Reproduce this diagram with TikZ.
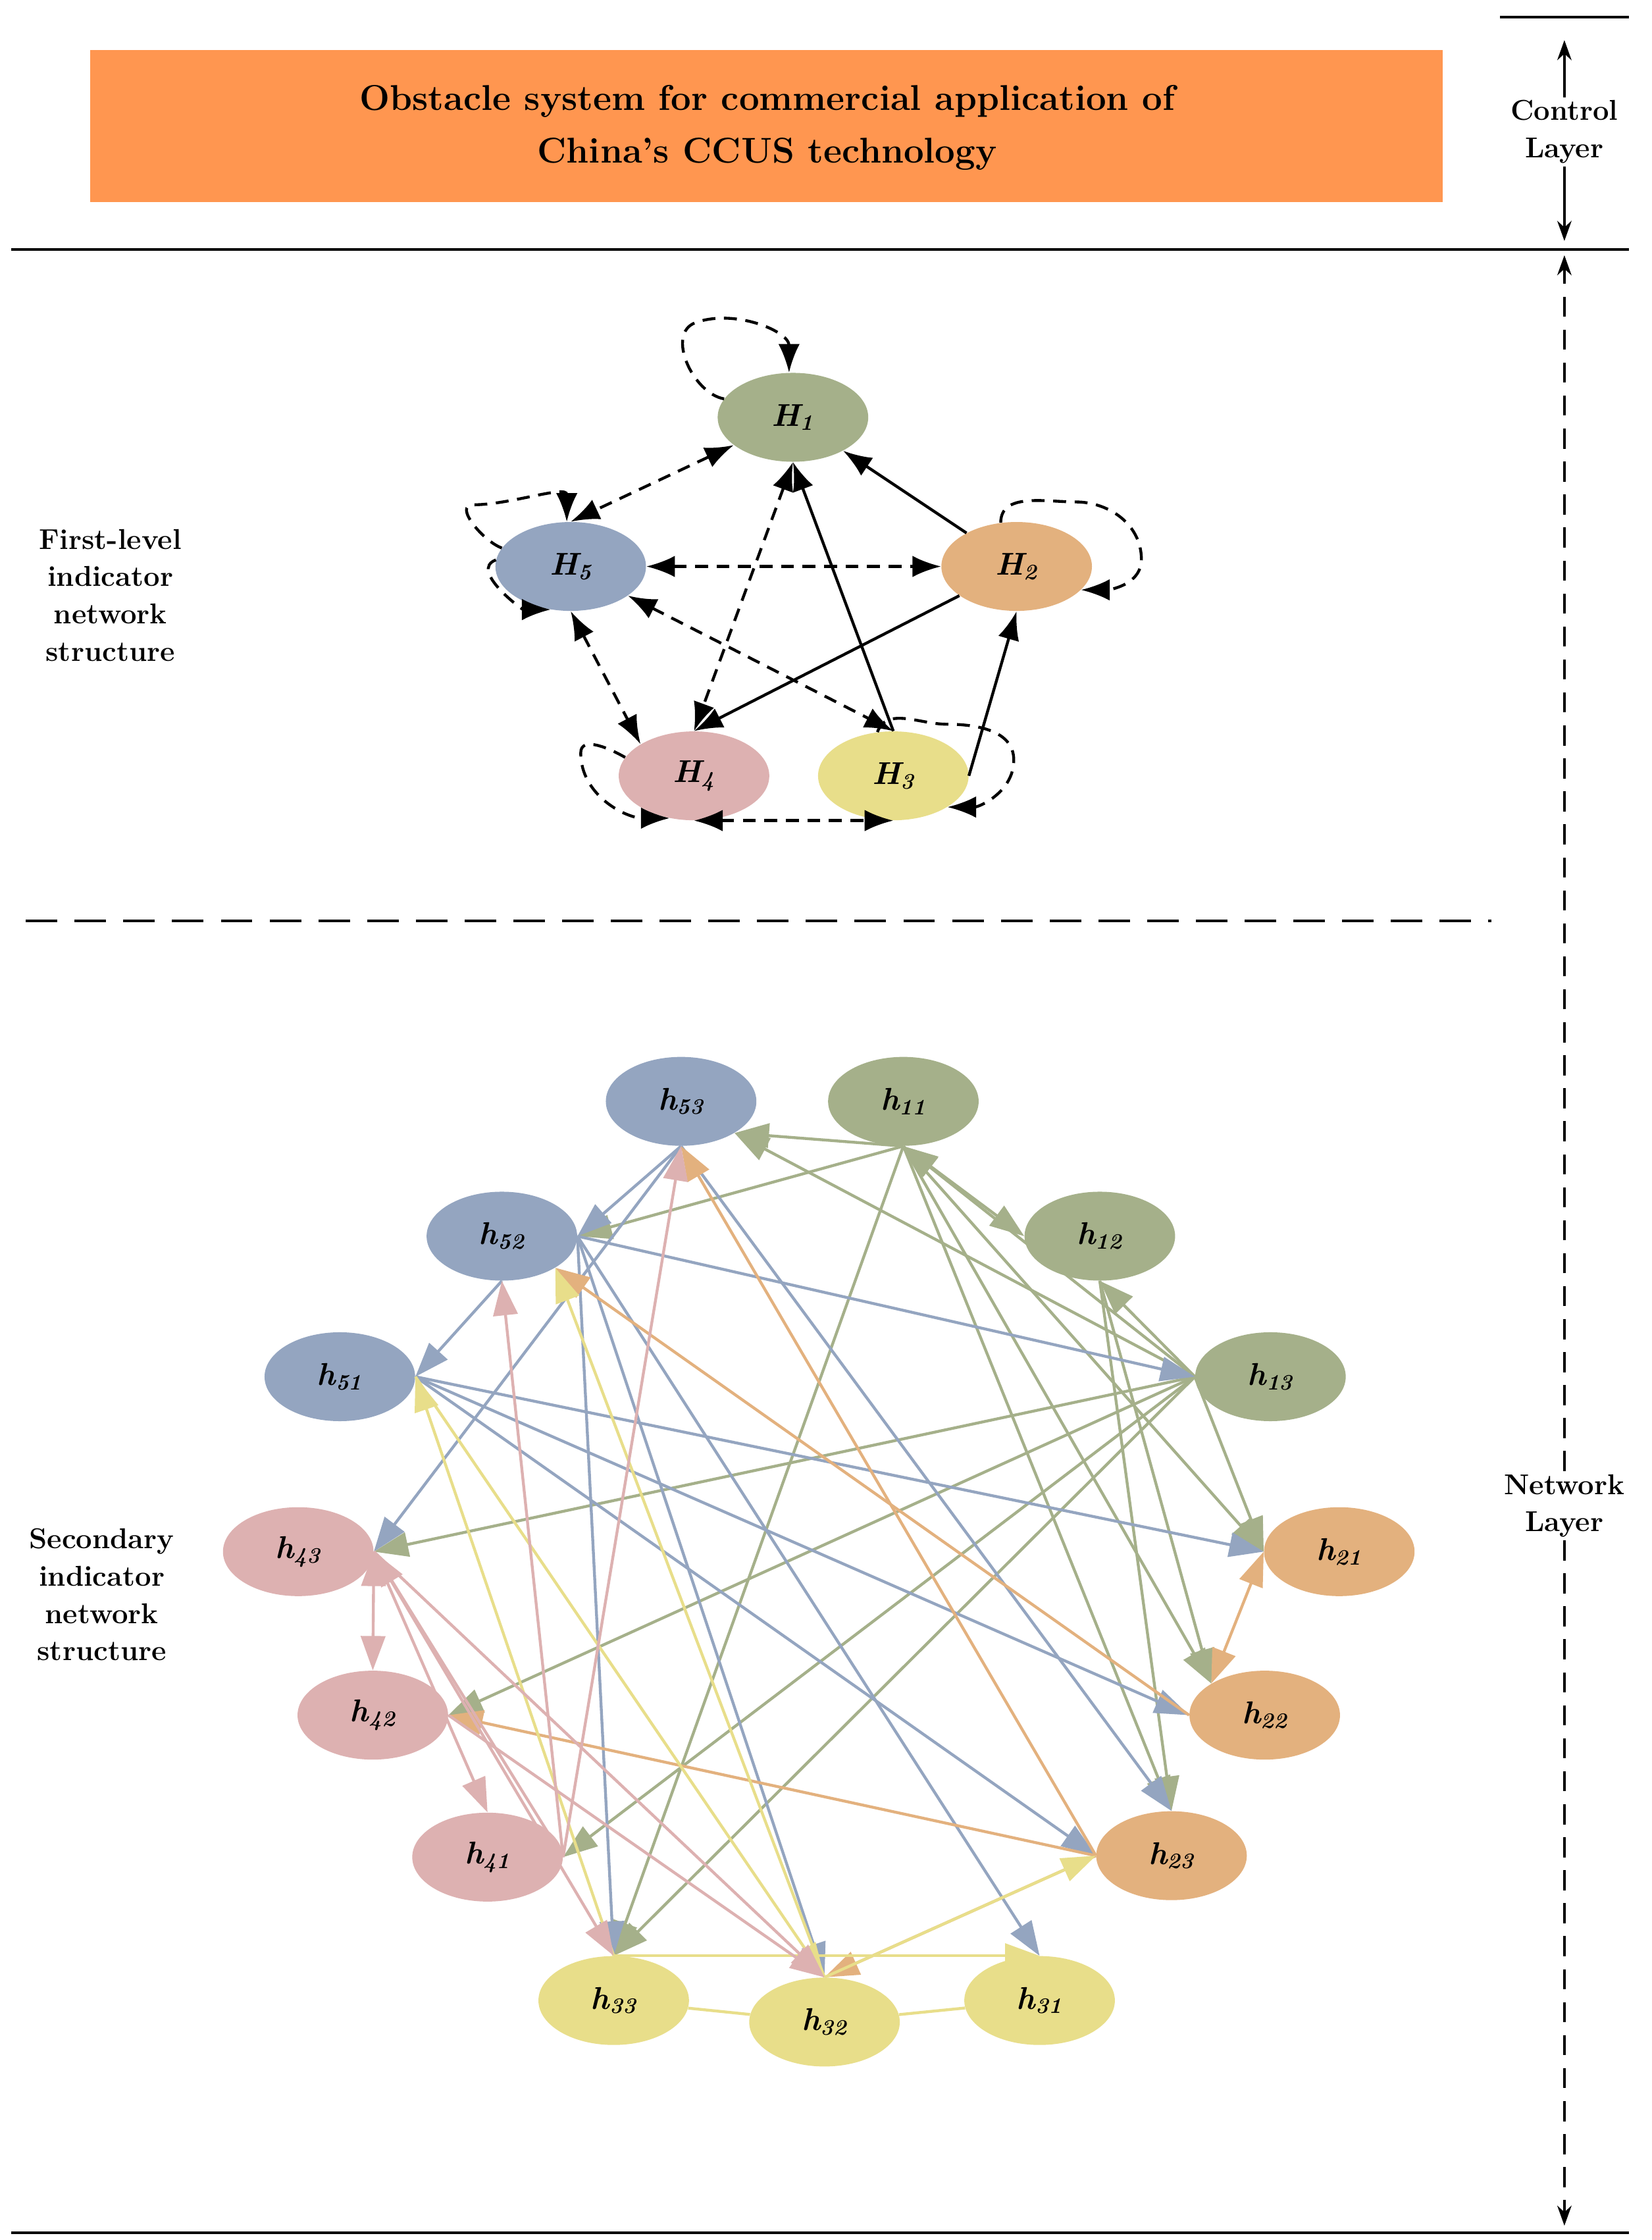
\documentclass[tikz,border=0pt]{standalone}
\usetikzlibrary{arrows.meta,shapes.geometric}
\definecolor{cg}{HTML}{A5B08A}
\definecolor{cb}{HTML}{94A5C0}
\definecolor{co}{HTML}{E3B17E}
\definecolor{cp}{HTML}{DDB1B1}
\definecolor{cy}{HTML}{E8DE8A}
\definecolor{ct}{HTML}{FF9650}
\begin{document}
\begin{tikzpicture}[x=1pt,y=-1pt,
 big/.style={ellipse,minimum width=105pt,minimum height=62pt,inner sep=0pt,font=\fontsize{22}{24}\selectfont\bfseries\itshape},
 sol/.style={line width=2pt,-{Latex[length=20pt,width=15pt]}},
 das/.style={line width=2pt,dash pattern=on 9pt off 6pt,-{Latex[length=20pt,width=15pt]}},
 dd/.style={das,{Latex[length=20pt,width=15pt]}-{Latex[length=20pt,width=15pt]}},
 e/.style={line width=2pt,draw=#1,-{Triangle[length=24pt,width=17pt]},#1},
 de/.style={e=#1,{Triangle[length=24pt,width=17pt]}-{Triangle[length=24pt,width=17pt]}},
 lab/.style={font=\fontsize{20}{26}\selectfont\bfseries,align=center}]
\useasboundingbox (0,0) rectangle (1152,1562);
% frame
\fill[ct] (63,35) rectangle (1006,141);
\node[font=\fontsize{25}{37}\selectfont\bfseries,align=center] (title) at (535,89) {Obstacle system for commercial application of\\China's CCUS technology};
\draw[line width=2pt] (1046,12) -- (1136,12);
\draw[line width=2pt] (8,174) -- (1136,174);
\draw[line width=2pt] (8,1557) -- (1136,1557);
\draw[line width=1.8pt,dash pattern=on 22pt off 12pt] (18,642) -- (1040,642);
\coordinate (c1) at (1091,28); \coordinate (c2) at (1091,168);
\coordinate (n1) at (1091,178); \coordinate (n2) at (1091,1552);
\node[lab,fill=white,inner sep=2pt] (cl) at (1091,92) {Control\\Layer};
\draw[line width=1.5pt,-{Stealth[length=14pt,width=10pt]}] (cl) -- (c1);
\draw[line width=1.5pt,-{Stealth[length=14pt,width=10pt]}] (cl) -- (c2);
\node[lab,fill=white,inner sep=2pt] (nl) at (1091,1050) {Network\\Layer};
\draw[line width=1.5pt,dash pattern=on 14pt off 9pt,-{Stealth[length=14pt,width=10pt]}] (nl) -- (n1);
\draw[line width=1.5pt,dash pattern=on 14pt off 9pt,-{Stealth[length=14pt,width=10pt]}] (nl) -- (n2);
\node[lab] (t1) at (77,415) {First-level\\indicator\\network\\structure};
\node[lab] (t2) at (71,1112) {Secondary\\indicator\\network\\structure};
% first level
\node[big,fill=cg] (H1) at (553,291) {H\textsubscript{1}};
\node[big,fill=co] (H2) at (709,395) {H\textsubscript{2}};
\node[big,fill=cy] (H3) at (623,541) {H\textsubscript{3}};
\node[big,fill=cp] (H4) at (484,541) {H\textsubscript{4}};
\node[big,fill=cb] (H5) at (398,395) {H\textsubscript{5}};
\draw[sol] (H2) -- (H1);
\draw[sol] (H3.north) -- (H1.south);
\draw[sol] (H2) -- (H4.north);
\draw[sol] (H3.east) -- (H2.south);
\draw[dd] (H1) -- (H5.north);
\draw[dd] (H5) -- (H2);
\draw[dd] (H5) -- (H3.north);
\draw[dd] (H1.south) -- (H4.north);
\draw[dd] (H5.south) -- (H4.north west);
\draw[dd] (H4.south) -- (H3.south);
\draw[das] (H1.165) to[out=170,in=200] (485,225) to[out=20,in=90] (H1.95);
\draw[das] (H5.165) to[out=160,in=180] (330,352) to[out=0,in=90] (H5.95);
\draw[das] (H5.175) to[out=200,in=180] (H5.-115);
\draw[das] (H2.110) to[out=90,in=180] (750,350) to[out=0,in=90] (796,390) to[out=-90,in=0] (H2.-20);
\draw[das] (H4.165) to[out=150,in=90] (405,525) to[out=-90,in=180] (H4.-120);
\draw[das] (H3.110) to[out=70,in=180] (660,505) to[out=0,in=90] (707,530) to[out=-90,in=0] (H3.-30);
% second level
\node[big,fill=cb] (h53) at (475,768) {h\textsubscript{53}};
\node[big,fill=cg] (h11) at (630,768) {h\textsubscript{11}};
\node[big,fill=cg] (h12) at (767,862) {h\textsubscript{12}};
\node[big,fill=cg] (h13) at (886,960) {h\textsubscript{13}};
\node[big,fill=co] (h21) at (934,1082) {h\textsubscript{21}};
\node[big,fill=co] (h22) at (882,1196) {h\textsubscript{22}};
\node[big,fill=co] (h23) at (817,1294) {h\textsubscript{23}};
\node[big,fill=cy] (h31) at (725,1395) {h\textsubscript{31}};
\node[big,fill=cy] (h32) at (575,1410) {h\textsubscript{32}};
\node[big,fill=cy] (h33) at (428,1395) {h\textsubscript{33}};
\node[big,fill=cp] (h41) at (340,1295) {h\textsubscript{41}};
\node[big,fill=cp] (h42) at (260,1196) {h\textsubscript{42}};
\node[big,fill=cp] (h43) at (208,1082) {h\textsubscript{43}};
\node[big,fill=cb] (h51) at (237,960) {h\textsubscript{51}};
\node[big,fill=cb] (h52) at (350,862) {h\textsubscript{52}};
% green
\draw[e=cg] (h11.south) -- (h53.south east);
\draw[e=cg] (h11.south) -- (h52.east);
\draw[e=cg] (h11.south) -- (h33.north);
\draw[de=cg] (h11.south) -- (h12.west);
\draw[e=cg] (h11.south) -- (h21.west);
\draw[e=cg] (h11.south) -- (h22.north west);
\draw[e=cg] (h11.south) -- (h23.north);
\draw[e=cg] (h13.west) -- (h53.south east);
\draw[e=cg] (h13.west) -- (h12.south);
\draw[e=cg] (h13.west) -- (h11.south);
\draw[e=cg] (h13.west) -- (h43.east);
\draw[e=cg] (h13.west) -- (h42.east);
\draw[e=cg] (h13.west) -- (h41.east);
\draw[e=cg] (h13.west) -- (h33.north);
\draw[e=cg] (h13.west) -- (h21.west);
\draw[e=cg] (h12.south) -- (h22.north west);
\draw[e=cg] (h12.south) -- (h23.north);
% blue
\draw[e=cb] (h53.south) -- (h52.east);
\draw[e=cb] (h53.south) -- (h43.east);
\draw[e=cb] (h53.south) -- (h23.north);
\draw[e=cb] (h52.south) -- (h51.east);
\draw[e=cb] (h52.east) -- (h13.west);
\draw[e=cb] (h52.east) -- (h33.north);
\draw[e=cb] (h52.east) -- (h32.north);
\draw[e=cb] (h52.east) -- (h31.north);
\draw[e=cb] (h51.east) -- (h21.west);
\draw[e=cb] (h51.east) -- (h22.west);
\draw[e=cb] (h51.east) -- (h23.west);
% orange
\draw[e=co] (h23.west) -- (h53.south);
\draw[e=co] (h22.west) -- (h52.south east);
\draw[e=co] (h23.west) -- (h42.east);
\draw[de=co] (h21.west) -- (h22.north west);
\draw[e=co] (h23.west) -- (h32.north);
% yellow
\draw[e=cy] (h33.north) -- (h51.east);
\draw[e=cy] (h32.north) -- (h52.south east);
\draw[e=cy] (h33.north) -- (h31.north);
\draw[e=cy] (h32.north) -- (h23.west);
\draw[line width=2pt,cy] (h33) -- (h32) -- (h31);
\draw[e=cy] (h51.east) -- (h32.north);
% pink
\draw[e=cp] (h41.east) -- (h53.south);
\draw[e=cp] (h41.east) -- (h52.south);
\draw[de=cp] (h43.east) -- (h42.north);
\draw[e=cp] (h43.east) -- (h41.north);
\draw[e=cp] (h43.east) -- (h33.north);
\draw[e=cp] (h43.east) -- (h32.north);
\draw[e=cp] (h41.east) -- (h43.east);
\draw[e=cp] (h42.east) -- (h32.north);
\end{tikzpicture}
\end{document}
